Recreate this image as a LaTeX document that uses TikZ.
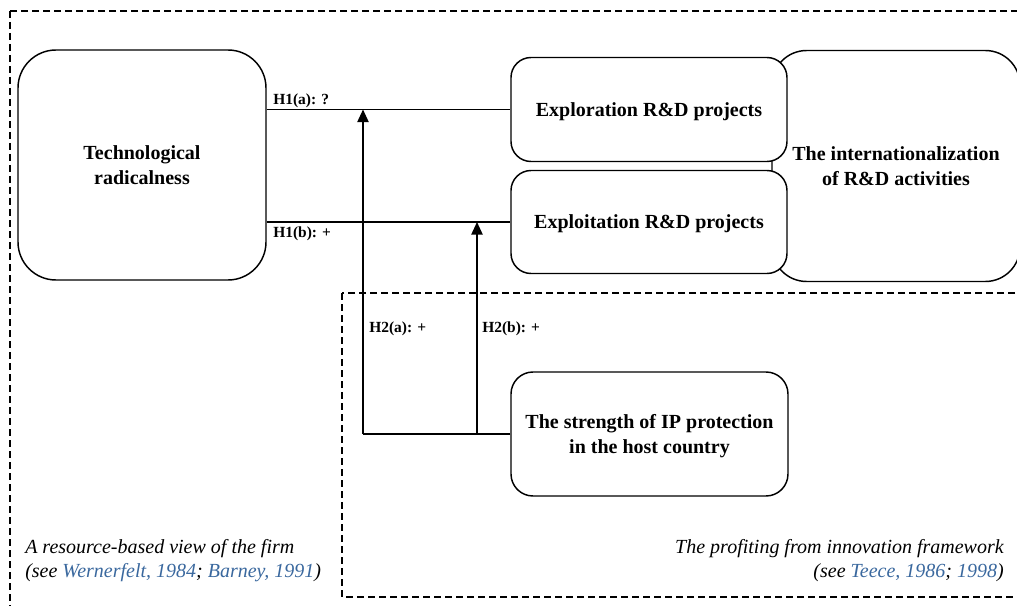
\documentclass[tikz,border=0pt]{standalone}
\usepackage{fontspec}
\setmainfont{Liberation Serif}
\usetikzlibrary{arrows.meta}
\definecolor{citeblue}{RGB}{58,104,158}
\begin{document}
\begin{tikzpicture}[x=0.75pt,y=-0.75pt,
  box/.style={draw, line width=1.1pt, fill=white, align=center, inner sep=0pt,
    text depth=0pt, font=\fontsize{15}{18.5}\selectfont\bfseries},
  lab/.style={inner sep=0pt, font=\fontsize{11.6}{14}\selectfont\bfseries},
  note/.style={inner sep=0pt, font=\fontsize{15}{18}\selectfont\itshape},
  frame/.style={draw, line width=0.9pt, dash pattern=on 5.25pt off 3pt},
  conn/.style={draw, line width=1.1pt},
  arr/.style={conn, -{Triangle[length=9.5pt,width=8.5pt]}}]
\useasboundingbox (0,0) rectangle (1017,606);
\clip (0,0) rectangle (1017,606);

% framework regions
\draw[frame] (10,11) rectangle (1040,640);
\draw[frame] (342,293) rectangle (1040,597);

% constructs
\node[box, rounded corners=28.5pt, minimum width=186pt, minimum height=172.5pt]
  (tech) at (142,165) {Technological\\radicalness};
\node[box, rounded corners=26pt, minimum width=186pt, minimum height=173.25pt]
  (intl) at (896,166) {The internationalization\\of R\&D activities};
\node[box, rounded corners=15pt, minimum width=207pt, minimum height=78pt]
  (explor) at (649,109.5) {Exploration R\&D projects};
\node[box, rounded corners=15pt, minimum width=207pt, minimum height=77.25pt]
  (exploit) at (649,222) {Exploitation R\&D projects};
\node[box, rounded corners=16.5pt, minimum width=207.75pt, minimum height=93pt]
  (ip) at (649.5,434) {The strength of IP protection\\in the host country};

% main effects
\draw[conn] (tech.east |- explor.west) -- (explor.west);
\draw[conn] (tech.east |- exploit.west) -- (exploit.west);

% moderating effects
\coordinate (ja) at (363,434);
\coordinate (jb) at (477,434);
\draw[conn] (ip.west) -- (ja);
\draw[arr] (ja) -- (ja |- explor.west);
\draw[arr] (jb) -- (jb |- exploit.west);

% hypothesis labels
\node[lab, anchor=base west] (h1a) at (273,105) {H1(a): ?};
\node[lab, anchor=base west] (h1b) at (273,238) {H1(b): +};
\node[lab, anchor=base west] (h2a) at (369,332) {H2(a): +};
\node[lab, anchor=base west] (h2b) at (482,332) {H2(b): +};

% theoretical lenses
\node[note, anchor=base west] (rbv1) at (25,553) {A resource-based view of the firm};
\node[note, anchor=base west] (rbv2) at (25,577)
  {(see \textcolor{citeblue}{Wernerfelt, 1984}; \textcolor{citeblue}{Barney, 1991})};
\node[note, anchor=base east] (pfi1) at (1004,553) {The profiting from innovation framework};
\node[note, anchor=base east] (pfi2) at (1004,577)
  {(see \textcolor{citeblue}{Teece, 1986}; \textcolor{citeblue}{1998})};
\end{tikzpicture}
\end{document}
